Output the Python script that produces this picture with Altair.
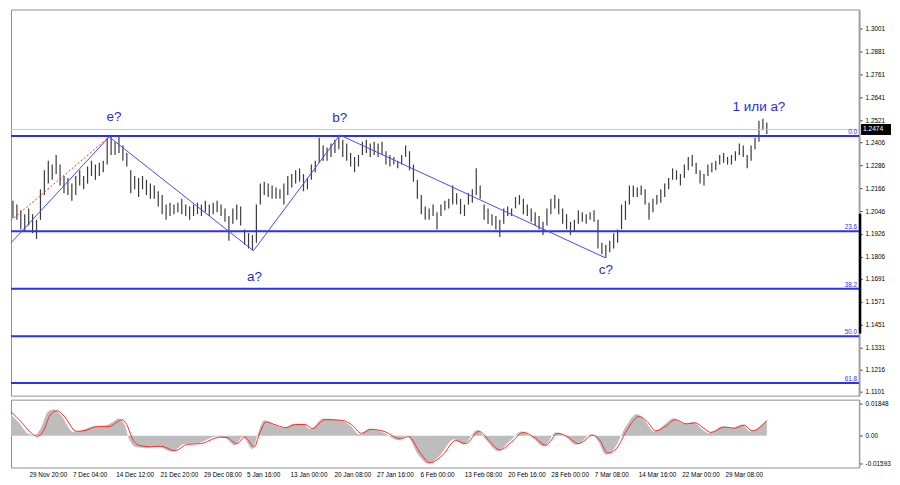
import altair as alt
import pandas as pd

# ---------------- main price panel data (bar index, high, low) ----------------
highs = [
    1.210, 1.208, 1.205, 1.203, 1.206, 1.203, 1.200, 1.216, 1.226, 1.231,
    1.229, 1.234, 1.229, 1.223, 1.222, 1.219, 1.223, 1.226, 1.223, 1.228,
    1.231, 1.229, 1.230, 1.231, 1.243, 1.244, 1.241, 1.244, 1.239, 1.235,
    1.226, 1.223, 1.222, 1.223, 1.221, 1.219, 1.218, 1.215, 1.213, 1.208,
    1.209, 1.208, 1.209, 1.211, 1.208, 1.207, 1.208, 1.209, 1.208, 1.210,
    1.208, 1.209, 1.210, 1.208, 1.206, 1.202, 1.206, 1.208, 1.207, 1.195,
    1.193, 1.192, 1.208, 1.219, 1.220, 1.219, 1.218, 1.217, 1.216, 1.219,
    1.223, 1.224, 1.226, 1.227, 1.224, 1.222, 1.229, 1.231, 1.243, 1.239,
    1.238, 1.240, 1.242, 1.244, 1.242, 1.240, 1.235, 1.233, 1.234, 1.241,
    1.242, 1.240, 1.241, 1.240, 1.241, 1.236, 1.234, 1.233, 1.231, 1.234,
    1.239, 1.236, 1.229, 1.221, 1.213, 1.207, 1.206, 1.208, 1.204, 1.208,
    1.210, 1.211, 1.218, 1.214, 1.211, 1.208, 1.214, 1.216, 1.227, 1.218,
    1.208, 1.206, 1.203, 1.202, 1.200, 1.206, 1.207, 1.206, 1.212, 1.213,
    1.211, 1.208, 1.206, 1.204, 1.202, 1.199, 1.206, 1.211, 1.213, 1.211,
    1.206, 1.203, 1.199, 1.200, 1.205, 1.204, 1.203, 1.204, 1.205, 1.200,
    1.188, 1.187, 1.189, 1.193, 1.195, 1.208, 1.210, 1.218, 1.218, 1.217,
    1.218, 1.216, 1.209, 1.211, 1.213, 1.216, 1.219, 1.222, 1.227, 1.226,
    1.224, 1.229, 1.233, 1.234, 1.230, 1.226, 1.224, 1.229, 1.230, 1.231,
    1.234, 1.235, 1.233, 1.234, 1.236, 1.240, 1.239, 1.234, 1.239, 1.243,
    1.252, 1.253, 1.251,
]
lows = [
    1.201, 1.200, 1.195, 1.194, 1.197, 1.193, 1.190, 1.200, 1.213, 1.219,
    1.221, 1.224, 1.218, 1.214, 1.213, 1.210, 1.213, 1.218, 1.216, 1.219,
    1.223, 1.221, 1.223, 1.225, 1.229, 1.234, 1.234, 1.235, 1.231, 1.228,
    1.214, 1.216, 1.212, 1.216, 1.213, 1.211, 1.211, 1.207, 1.203, 1.200,
    1.202, 1.203, 1.204, 1.203, 1.202, 1.200, 1.202, 1.203, 1.202, 1.204,
    1.202, 1.203, 1.204, 1.202, 1.199, 1.189, 1.198, 1.200, 1.197, 1.187,
    1.185, 1.184, 1.188, 1.208, 1.213, 1.212, 1.211, 1.211, 1.211, 1.208,
    1.213, 1.217, 1.219, 1.220, 1.215, 1.216, 1.221, 1.225, 1.230, 1.231,
    1.231, 1.233, 1.235, 1.237, 1.233, 1.231, 1.228, 1.225, 1.228, 1.234,
    1.235, 1.233, 1.234, 1.233, 1.234, 1.229, 1.228, 1.229, 1.227, 1.229,
    1.233, 1.226, 1.220, 1.211, 1.203, 1.200, 1.200, 1.202, 1.195, 1.202,
    1.205, 1.206, 1.208, 1.208, 1.203, 1.202, 1.208, 1.209, 1.213, 1.211,
    1.200, 1.198, 1.197, 1.195, 1.191, 1.198, 1.202, 1.202, 1.206, 1.208,
    1.203, 1.202, 1.199, 1.197, 1.195, 1.192, 1.197, 1.203, 1.206, 1.203,
    1.198, 1.195, 1.192, 1.194, 1.198, 1.199, 1.198, 1.200, 1.199, 1.185,
    1.182, 1.180, 1.183, 1.185, 1.188, 1.195, 1.200, 1.208, 1.212, 1.212,
    1.213, 1.208, 1.200, 1.204, 1.208, 1.209, 1.212, 1.216, 1.221, 1.221,
    1.218, 1.222, 1.226, 1.228, 1.224, 1.219, 1.218, 1.223, 1.225, 1.226,
    1.229, 1.230, 1.229, 1.229, 1.231, 1.234, 1.233, 1.227, 1.231, 1.237,
    1.241, 1.247, 1.245,
]

# horizontal Fibonacci levels
fib_levels = [1.2440, 1.1940, 1.1639, 1.1389, 1.1144]
fib_labels = ["0.0", "23.6", "38.2", "50.0", "61.8"]

# wave drawing (bar index, price)
wave_x = [-0.5, 24.5, 61.25, 83.25, 150.75]
wave_y = [1.1879, 1.2435, 1.1838, 1.2445, 1.1802]
red_x = [-0.5, 24.5]
red_y = [1.1996, 1.2435]

wave_text = ["e?", "a?", "b?", "c?", "1 или a?"]
wave_text_x = [25.75, 61.5, 83.25, 151.0, 190.0]
wave_text_y = [1.2537, 1.1700, 1.2532, 1.1736, 1.2593]

price_ticks = [1.3001, 1.2881, 1.2761, 1.2641, 1.2521, 1.2406, 1.2286, 1.2166,
               1.2046, 1.1926, 1.1806, 1.1691, 1.1571, 1.1451, 1.1331, 1.1216, 1.1101]
last_price = 1.2474
axis_marker = [1.2032, 1.1404]

time_labels = ["29 Nov 20:00", "7 Dec 04:00", "14 Dec 12:00", "21 Dec 20:00", "29 Dec 08:00",
               "5 Jan 16:00", "13 Jan 00:00", "20 Jan 08:00", "27 Jan 16:00", "6 Feb 00:00",
               "13 Feb 08:00", "20 Feb 16:00", "28 Feb 00:00", "7 Mar 08:00", "14 Mar 16:00",
               "22 Mar 00:00", "29 Mar 08:00"]
time_pos = [4.08, 15.17, 26.17, 37.42, 48.5, 59.5, 70.58, 81.75, 92.58, 103.67,
            114.92, 126.0, 137.0, 148.08, 159.25, 170.33, 181.33]

# ---------------- oscillator panel ----------------
sig_x = [-0.5, 2, 4.5, 6.25, 7.75, 9.5, 11.25, 12.75, 16.25, 18.75, 21.25, 24.5, 26.25,
         27.75, 29, 30.25, 32, 35.25, 37.75, 41.25, 44.5, 47.75, 52.75, 54.5, 57, 59,
         61.5, 62.75, 64.5, 67, 69.5, 72, 74.5, 76.25, 79.5, 83.75, 86.25, 88.75, 91.25,
         94.5, 98.75, 100.75, 103.75, 106.25, 109.5, 112.75, 115.25, 118.75, 121.25, 124,
         127, 130, 132.75, 135.75, 138.75, 141.25, 144, 147.75, 149.5, 151.5, 153.75,
         156.25, 159.5, 161.5, 163.75, 166.25, 168.75, 171.5, 173.75, 175.75, 177.75,
         181.25, 183.75, 186.25, 188.25, 192]
sig_v = [0.0137, 0.0082, 0.0019, -0.0003, 0.0028, 0.0119, 0.0143, 0.0119, 0.0025, 0.0032,
         0.0052, 0.0052, 0.0074, 0.0092, 0.0064, -0.0008, -0.0054, -0.0063, -0.0060, -0.0085,
         -0.0049, -0.0045, -0.0008, -0.0010, -0.0045, -0.0008, -0.0063, 0.0010, 0.0079, 0.0061,
         0.0046, 0.0064, 0.0064, 0.0041, 0.0092, 0.0088, 0.0064, 0.0014, 0.0037, 0.0025,
         -0.0017, -0.0005, -0.0099, -0.0154, -0.0109, -0.0027, -0.0045, 0.0025, -0.0027, -0.0081,
         -0.0036, 0.0019, -0.0008, -0.0054, 0.0014, -0.0005, -0.0045, 0.0004, -0.0027, -0.0099,
         -0.0072, 0.0028, 0.0110, 0.0082, 0.0028, 0.0055, 0.0092, 0.0068, 0.0074, 0.0046,
         0.0019, 0.0050, 0.0043, 0.0061, 0.0028, 0.0086]
hist_x = [-0.5, 1.5, 4, 5.5, 7, 9, 10.5, 12, 15.5, 18, 20.5, 23.5, 25.5, 27, 28.5, 29.5,
          31.5, 34.5, 37, 40.5, 43.5, 47, 52, 54, 56.5, 58.5, 61, 62.5, 64, 66.5, 69, 71.5,
          74, 75.75, 79, 83, 85.75, 88.25, 90.75, 94, 98.25, 100.25, 103.25, 105.75, 109,
          112.25, 114.75, 118.25, 120.75, 123.5, 126.5, 129.5, 132.25, 135.25, 138.25,
          140.75, 143.5, 147.25, 149, 151, 153.25, 155.75, 159, 161, 163.25, 165.75, 168.25,
          171, 173.25, 175.25, 177.25, 180.75, 183.25, 185.75, 187.75, 192]
hist_v = [0.0120, 0.0075, 0.0010, 0.0003, 0.0040, 0.0140, 0.0150, 0.0125, 0.0020, 0.0035,
          0.0055, 0.0058, 0.0080, 0.0098, 0.0060, -0.0015, -0.0065, -0.0068, -0.0062, -0.0092,
          -0.0048, -0.0043, -0.0003, -0.0012, -0.0055, -0.0005, -0.0075, 0.0020, 0.0088, 0.0062,
          0.0045, 0.0068, 0.0066, 0.0038, 0.0098, 0.0092, 0.0062, 0.0008, 0.0040, 0.0022,
          -0.0025, -0.0002, -0.0110, -0.0160, -0.0105, -0.0020, -0.0050, 0.0035, -0.0030, -0.0088,
          -0.0032, 0.0025, -0.0010, -0.0062, 0.0020, -0.0005, -0.0052, 0.0008, -0.0030, -0.0108,
          -0.0070, 0.0040, 0.0125, 0.0085, 0.0025, 0.0060, 0.0100, 0.0068, 0.0078, 0.0042,
          0.0015, 0.0055, 0.0045, 0.0065, 0.0025, 0.0092]
osc_ticks = [0.01848, 0.0, -0.01593]
osc_tick_labels = ["0.01848", "0.00", "-0.01593"]

# ---------------- styling ----------------
FONT = "Liberation Sans"
BLUE = "#2f2ff0"
W, H_MAIN, H_OSC = 850, 387, 68

x_scale = alt.Scale(domain=[-0.5, 215.5], nice=False, zero=False)
y_scale = alt.Scale(domain=[1.1078, 1.3103], nice=False, zero=False)
o_scale = alt.Scale(domain=[-0.01813, 0.02064], nice=False, zero=False)

price_axis = alt.Axis(
    orient="right", values=price_ticks, format=".4f", title=None, grid=False,
    labelFont=FONT, labelFontSize=6.4, labelColor="#000", labelPadding=3,
    tickSize=3, tickColor="#333", domainColor="#a0a0a0", domainWidth=2,
    labelFlush=False, labelOverlap=False, zindex=0)

pos_js = "[" + ",".join(str(p) for p in time_pos) + "]"
lab_js = "[" + ",".join("'" + t + "'" for t in time_labels) + "]"
opos_js = "[" + ",".join(str(p) for p in osc_ticks) + "]"
olab_js = "[" + ",".join("'" + t + "'" for t in osc_tick_labels) + "]"

time_axis = alt.Axis(
    values=time_pos, labelExpr=f"{lab_js}[indexof({pos_js}, datum.value)]",
    title=None, grid=False, ticks=False, domain=False, labelAlign="left",
    labelFont=FONT, labelFontSize=6.4, labelColor="#000", labelPadding=4,
    labelFlush=False, labelOverlap=False, labelBound=False)

osc_axis = alt.Axis(
    orient="right", values=osc_ticks, labelExpr=f"{olab_js}[indexof({opos_js}, datum.value)]",
    title=None, grid=False, labelFont=FONT, labelFontSize=6.4, labelColor="#000",
    labelPadding=3, tickSize=3, tickColor="#333", domainColor="#a0a0a0", domainWidth=1.5,
    labelFlush=False, labelOverlap=False)

bars_df = pd.DataFrame({"i": list(range(len(highs))), "high": highs, "low": lows})
fib_df = pd.DataFrame({"level": fib_levels, "label": fib_labels})
wave_df = pd.DataFrame({"i": wave_x, "p": wave_y, "o": list(range(len(wave_x)))})
red_df = pd.DataFrame({"i": red_x, "p": red_y, "o": list(range(len(red_x)))})
wtext_df = pd.DataFrame({"i": wave_text_x, "p": wave_text_y, "t": wave_text})
last_df = pd.DataFrame({"p": [last_price], "t": [f"{last_price:.4f}"]})
marker_df = pd.DataFrame({"a": [axis_marker[0]], "b": [axis_marker[1]]})

X = alt.X("i:Q", scale=x_scale, axis=None)


def Yp(field):
    return alt.Y(field, scale=y_scale, axis=price_axis)


bars = alt.Chart(bars_df).mark_rule(color="#3a3a3a", strokeWidth=1.2).encode(
    x=X, y=Yp("low:Q"), y2="high:Q")

last_line = alt.Chart(last_df).mark_rule(color="#c8c8c8", strokeWidth=1).encode(y=Yp("p:Q"))

fib_lines = alt.Chart(fib_df).mark_rule(color=BLUE, strokeWidth=2).encode(y=Yp("level:Q"))
fib_text = alt.Chart(fib_df).mark_text(
    align="right", baseline="bottom", dy=-1, font=FONT, fontSize=6.4, color=BLUE
).encode(x=alt.value(W - 2), y=Yp("level:Q"), text="label:N")

wave_lines = alt.Chart(wave_df).mark_line(color="#4848ff", strokeWidth=1, clip=True).encode(
    x=X, y=Yp("p:Q"), order="o:Q")
red_line = alt.Chart(red_df).mark_line(color="#ff3030", strokeWidth=1, strokeDash=[2, 2], clip=True).encode(
    x=X, y=Yp("p:Q"), order="o:Q")
wave_labels = alt.Chart(wtext_df).mark_text(font=FONT, fontSize=13.5, color="#2a2ad8").encode(
    x=X, y=Yp("p:Q"), text="t:N")

axis_mark = alt.Chart(marker_df).mark_rule(color="#000", strokeWidth=2.5, clip=False).encode(
    x=alt.value(W + 1), y=Yp("a:Q"), y2="b:Q")
price_box = alt.Chart(last_df).mark_tick(
    orient="horizontal", size=30, thickness=11, color="#000", opacity=1, clip=False
).encode(x=alt.value(W + 17), y=Yp("p:Q"))
price_text = alt.Chart(last_df).mark_text(
    align="left", baseline="middle", font=FONT, fontSize=6.6, color="#fff", clip=False
).encode(x=alt.value(W + 4), y=Yp("p:Q"), text="t:N")

main = alt.layer(
    bars, last_line, fib_lines, fib_text, wave_lines, red_line, wave_labels,
    axis_mark, price_box, price_text
).properties(width=W, height=H_MAIN)

# oscillator
hist_df = pd.DataFrame({"i": hist_x, "v": hist_v})
sig_df = pd.DataFrame({"i": sig_x, "v": sig_v})

hist = alt.Chart(hist_df).mark_area(color="#bdbdbd", interpolate="monotone").encode(
    x=alt.X("i:Q", scale=x_scale, axis=time_axis),
    y=alt.Y("v:Q", scale=o_scale, axis=osc_axis),
    y2=alt.datum(0),
)
sig = alt.Chart(sig_df).mark_line(color="#ff2a2a", strokeWidth=1, interpolate="monotone").encode(
    x=alt.X("i:Q", scale=x_scale, axis=time_axis),
    y=alt.Y("v:Q", scale=o_scale, axis=osc_axis))

osc = alt.layer(hist, sig).properties(width=W, height=H_OSC)

pad0 = {"left": 0, "top": 0, "right": 0, "bottom": 0}
chart = alt.vconcat(main, osc, spacing=2).properties(
    padding=pad0,
    autosize=alt.AutoSizeParams(type="pad"),
).configure(
    background="#ffffff",
    padding=pad0,
    view=alt.ViewConfig(stroke="#909090", strokeWidth=1),
)

chart.save("out.html", embed_options={"renderer": "svg", "actions": False, "padding": pad0})
